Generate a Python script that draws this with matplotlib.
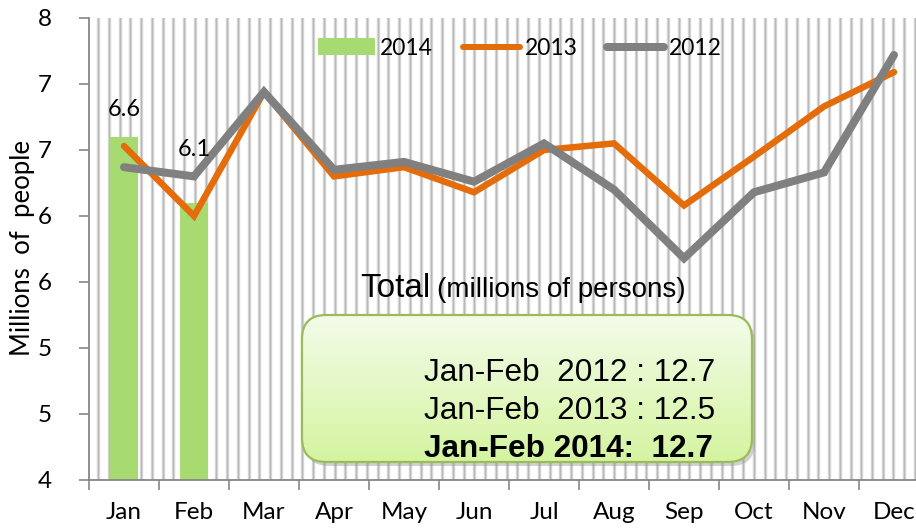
import numpy as np
import matplotlib
matplotlib.use("Agg")
import matplotlib.pyplot as plt
from matplotlib.patches import Patch, FancyBboxPatch
from matplotlib.lines import Line2D
from matplotlib.transforms import IdentityTransform

plt.rcParams['font.family'] = ['Lato', 'DejaVu Sans']

# ---------------- data ----------------
months = ['Jan', 'Feb', 'Mar', 'Apr', 'May', 'Jun', 'Jul', 'Aug', 'Sep', 'Oct', 'Nov', 'Dec']
v2014 = [6.6, 6.1]
v2013 = [6.53, 6.00, 6.94, 6.30, 6.37, 6.18, 6.50, 6.55, 6.08, 6.45, 6.83, 7.09]
v2012 = [6.37, 6.30, 6.94, 6.35, 6.41, 6.26, 6.55, 6.20, 5.68, 6.18, 6.33, 7.22]
series_names = ['2014', '2013', '2012']
yticks = [4.0, 4.5, 5.0, 5.5, 6.0, 6.5, 7.0, 7.5]
ytick_labels = ['4', '5', '5', '6', '6', '7', '7', '8']
total_years = ['2012', '2013', '2014']
total_values = [12.7, 12.5, 12.7]

W, H = 916, 528
GREEN = '#a7da71'
ORANGE = '#e46c0a'
GREY = '#808080'
AXC = '#868686'

fig = plt.figure(figsize=(W / 100, H / 100), dpi=100)
ax = fig.add_axes([89 / W, 48 / H, 840 / W, 462 / H])
ax.set_zorder(0)
ax.set_xlim(-0.5, 11.5)
ax.set_ylim(4, 7.5)

x = np.arange(len(months))

# vertical pattern lines in plot area
for xp in np.arange(98, 930, 10.75):
    xd = (xp - 89) / 70 - 0.5
    ax.axvline(xd, color='#d6d6d6', lw=3.4 * 0.72, zorder=0.5)
    ax.axvline(xd, color='#b8b8b8', lw=1.1 * 0.72, zorder=0.6)

# bars 2014
ax.bar(x[:len(v2014)], v2014, width=0.4, color=GREEN, zorder=2)
label_offsets = [27, 53]
for xi, v, off in zip(x, v2014, label_offsets):
    ax.annotate(f"{v:.1f}", (xi, v), xytext=(0, off), textcoords='offset pixels',
                ha='center', va='center', fontsize=17, color='black', zorder=6)

# lines
ax.plot(x, v2013, color=ORANGE, lw=6.5 * 0.72, solid_capstyle='round',
        solid_joinstyle='miter', zorder=3)
ax.plot(x, v2012, color=GREY, lw=8 * 0.72, solid_capstyle='round',
        solid_joinstyle='miter', zorder=4)

# axes styling
for s in ['top', 'right']:
    ax.spines[s].set_visible(False)
for s in ['left', 'bottom']:
    ax.spines[s].set_color(AXC)
    ax.spines[s].set_linewidth(1.3)
    ax.spines[s].set_zorder(5)

ax.set_xticks(np.arange(-0.5, 11.6, 1))
ax.set_xticklabels([])
ax.tick_params(axis='x', which='major', length=7, width=1.2, color=AXC, direction='out')
ax.set_xticks(x, minor=True)
ax.set_xticklabels(months, minor=True)
ax.tick_params(axis='x', which='minor', length=0, pad=16, labelsize=17.5)

ax.set_yticks(yticks)
ax.set_yticklabels(ytick_labels)
ax.tick_params(axis='y', length=7, width=1.2, color=AXC, direction='out', pad=20, labelsize=17.5)

fig.text(23 / W, 1 - 248 / H, 'Millions  of  people', rotation=90, ha='center', va='center',
         fontsize=18.5)

# legend
handles = [Patch(facecolor=GREEN, edgecolor='none'),
           Line2D([0], [0], color=ORANGE, lw=6 * 0.72, solid_capstyle='round'),
           Line2D([0], [0], color=GREY, lw=8 * 0.72, solid_capstyle='round')]
leg = ax.legend(handles, series_names, loc='center', bbox_to_anchor=(0.513, 0.935),
                ncol=3, frameon=False, fontsize=16.5, handlelength=2.5, handletextpad=0.2,
                columnspacing=1.3, handleheight=0.7)
leg.set_zorder(7)

# "Total" title
fig.text(360 / W, 1 - 297 / H, 'Total', fontsize=24, family='Liberation Sans',
         ha='left', va='baseline')
fig.text(437 / W, 1 - 297 / H, '(millions of persons)', fontsize=20, family='Liberation Sans',
         ha='left', va='baseline')

# rounded green box (pixel coords, origin bottom-left)
bx0, bx1 = 302, 752
by_top, by_bot = 315, 462
bw, bh = bx1 - bx0, by_bot - by_top
by0 = H - by_bot
radius = 24

shadow = FancyBboxPatch((bx0 + 3, by0 - 4), bw, bh,
                        boxstyle=f"round,pad=0,rounding_size={radius}",
                        transform=IdentityTransform(), facecolor='#9a9a9a', edgecolor='none',
                        alpha=0.45, zorder=0.5)
fig.add_artist(shadow)

box_ax = fig.add_axes([bx0 / W, by0 / H, bw / W, bh / H])
box_ax.set_zorder(1)
box_ax.axis('off')
top_c = np.array([244, 252, 234]) / 255
bot_c = np.array([212, 244, 160]) / 255
t = np.linspace(0, 1, 256)[:, None]
grad = (top_c[None, :] * (1 - t) + bot_c[None, :] * t)[:, None, :]
grad = np.repeat(grad, 2, axis=1)
clip = FancyBboxPatch((bx0, by0), bw, bh, boxstyle=f"round,pad=0,rounding_size={radius}",
                      transform=IdentityTransform(), facecolor='none', edgecolor='none')
im = box_ax.imshow(grad, extent=[0, 1, 0, 1], aspect='auto', transform=box_ax.transAxes)
im.set_clip_path(clip)

border = FancyBboxPatch((bx0, by0), bw, bh, boxstyle=f"round,pad=0,rounding_size={radius}",
                        transform=IdentityTransform(), facecolor='none', edgecolor='#9bbb59',
                        lw=1.6, zorder=2)
fig.add_artist(border)

lines = [f"Jan-Feb  {total_years[0]} : {total_values[0]:.1f}",
         f"Jan-Feb  {total_years[1]} : {total_values[1]:.1f}",
         f"Jan-Feb {total_years[2]}:  {total_values[2]:.1f}"]
baselines = [381, 419, 457]
weights = ['normal', 'normal', 'bold']
for s, bl, wgt in zip(lines, baselines, weights):
    fig.text(424 / W, 1 - bl / H, s, fontsize=22.7, family='Liberation Sans', fontweight=wgt,
             ha='left', va='baseline', zorder=3)

fig.savefig('out.png', dpi=100)
